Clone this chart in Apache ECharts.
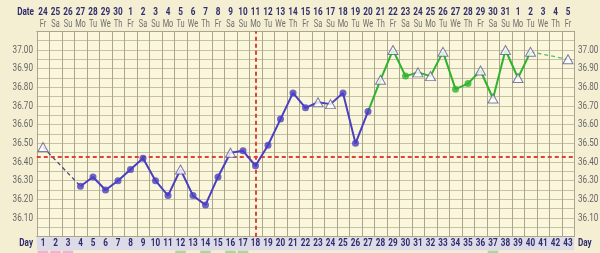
<!DOCTYPE html>
<html><head><meta charset="utf-8">
<script src="https://cdn.jsdelivr.net/npm/echarts@6/dist/echarts.min.js"></script>
<style>html,body{margin:0;padding:0;background:#f4eed3;}#c{width:600px;height:253px;}</style>
</head><body><div id="c"></div>
<script>
const days = Array.from({length:43},(_,i)=>String(i+1));
const dates = ['24','25','26','27','28','29','30','1','2','3','4','5','6','7','8','9','10','11','12','13','14','15','16','17','18','19','20','21','22','23','24','25','26','27','28','29','30','31','1','2','3','4','5'];
const weekdays = ['Fr','Sa','Su','Mo','Tu','We','Th','Fr','Sa','Su','Mo','Tu','We','Th','Fr','Sa','Su','Mo','Tu','We','Th','Fr','Sa','Su','Mo','Tu','We','Th','Fr','Sa','Su','Mo','Tu','We','Th','Fr','Sa','Su','Mo','Tu','We','Th','Fr'];
const temps = [36.48,null,null,36.27,36.32,36.25,36.30,36.36,36.42,36.30,36.22,36.36,36.22,36.17,36.32,36.45,36.46,36.38,36.49,36.63,36.77,36.69,36.72,36.71,36.77,36.50,36.67,36.84,37.00,36.86,36.88,36.86,36.99,36.79,36.82,36.89,36.74,37.00,36.85,36.99,null,null,36.95];
// 't' = open triangle marker, 'o' = filled dot
const markers = ['t','','','o','o','o','o','o','o','o','o','t','o','o','o','t','o','o','o','o','o','o','t','t','o','o','o','t','t','o','t','t','t','o','o','t','t','t','t','t',' ',' ','t'];
const yTickLabels = ['36.10','36.20','36.30','36.40','36.50','36.60','36.70','36.80','36.90','37.00'];
const lowSolid = [4,27];
const lowDash = [1,4];
const highSolid = [27,40];
const highDash = [40,43];
const coverLine = 36.43;
const ovulationDay = '18';
const pinkDays = [1,2,3];
const greenDays = [12,14,16,17,37];

const BLUE='#4a3fc2', GREEN='#2db32d', RED='#de4238', NAVY='#2e2d6c';
const G={left:36.75,right:25.75,top:31.3,bottom:16.3};
const SX=0.74;

function range(r){return temps.map((v,i)=>(i+1>=r[0]&&i+1<=r[1])?v:null);}
const markData = temps.map((v,i)=>{
  if(v==null) return null;
  if(markers[i]==='t') return {value:v,symbol:'triangle',symbolSize:[10,9],itemStyle:{color:'#ffffff',borderColor:'#5d5a96',borderWidth:1}};
  return {value:v,symbol:'circle',symbolSize:7,itemStyle:{color:(i+1)<=lowSolid[1]?BLUE:GREEN,borderWidth:0}};
});
const chart=echarts.init(document.getElementById('c'));
const option={
  backgroundColor:'#f4eed3',
  animation:false,
  grid:{left:G.left,right:G.right,top:G.top,bottom:G.bottom,show:true,backgroundColor:'#fbf7dc',borderWidth:0},
  xAxis:[
    {type:'category',data:days,position:'bottom',boundaryGap:true,
     axisLine:{show:true,lineStyle:{color:'#aaa58c',width:1}},axisTick:{show:false},
     axisLabel:{show:false},
     splitLine:{show:true,interval:0,lineStyle:{color:'#aaa58c',width:1}}},
    {type:'category',data:dates,position:'top',boundaryGap:true,
     axisLine:{show:true,lineStyle:{color:'#aaa58c'}},axisTick:{show:false},axisLabel:{show:false}}
  ],
  yAxis:[
    {type:'value',min:36,max:37.1,interval:0.05,position:'left',
     axisLine:{show:true,lineStyle:{color:'#aaa58c'}},axisTick:{show:false},axisLabel:{show:false},
     splitLine:{show:true,lineStyle:{color:'#c6c1a2',width:1}}},
    {type:'value',min:36,max:37.1,interval:0.05,position:'right',
     axisLine:{show:true,lineStyle:{color:'#aaa58c'}},axisTick:{show:false},axisLabel:{show:false},
     splitLine:{show:false}}
  ],
  series:[
    {type:'line',data:range(lowDash),connectNulls:true,symbol:'none',z:3,
     lineStyle:{color:'#4b4a86',width:1.3,type:[4,3]},
     markLine:{silent:true,symbol:'none',label:{show:false},
       lineStyle:{color:RED,width:2,type:[4,3]},
       data:[{yAxis:coverLine},{xAxis:ovulationDay}]}},
    {type:'line',data:range(highDash),connectNulls:true,symbol:'none',z:3,
     lineStyle:{color:'#5cbf5c',width:1.3,type:[4,3]}},
    {type:'line',data:range(highSolid),symbol:'none',z:4,lineStyle:{color:GREEN,width:2}},
    {type:'line',data:range(lowSolid),symbol:'none',z:5,lineStyle:{color:BLUE,width:2}},
    {type:'scatter',data:markData,z:6}
  ]
};
chart.setOption(option);
const bottomY = 253-G.bottom;
const rightX = 600-G.right;
function txt(text,x,y,font,fill,align){
  return {type:'text',x:x,y:y,scaleX:SX,silent:true,style:{text:text,x:0,y:0,align:align||'center',verticalAlign:'middle',font:font,fill:fill}};
}
const FB='bold 11px Roboto', FW='10px Roboto', FY='11px Roboto';
const gr=[
  {type:'rect',shape:{x:G.left,y:bottomY+0.5,width:rightX-G.left,height:13},style:{fill:'#dedbe8'},z:-1},
  txt('Date',34,12,FB,NAVY,'right'),
  txt('Day',33,243.5,FB,NAVY,'right'),
  txt('Day',578,243.5,FB,NAVY,'left')
];
const cw=(rightX-G.left)/days.length;
days.forEach((d,i)=>{
  const cx=chart.convertToPixel({xAxisIndex:0},d);
  gr.push(txt(dates[i],cx,12,FB,NAVY));
  gr.push(txt(weekdays[i],cx,24,FW,'#6f6f6f'));
  gr.push(txt(d,cx,243.5,FB,NAVY));
});
yTickLabels.forEach(l=>{
  const cy=chart.convertToPixel({yAxisIndex:0},parseFloat(l));
  gr.push(txt(l,33,cy,FY,'#666','right'));
  gr.push(txt(l,578,cy,FY,'#666','left'));
});
pinkDays.concat(greenDays).forEach(d=>{
  const cx=chart.convertToPixel({xAxisIndex:0},days[d-1]);
  gr.push({type:'rect',shape:{x:cx-cw/2+1,y:bottomY+14,width:cw-2,height:6},style:{fill:pinkDays.includes(d)?'#efb3cf':'#a6d99a'},z:-1});
});
chart.setOption({graphic:gr});
</script></body></html>
